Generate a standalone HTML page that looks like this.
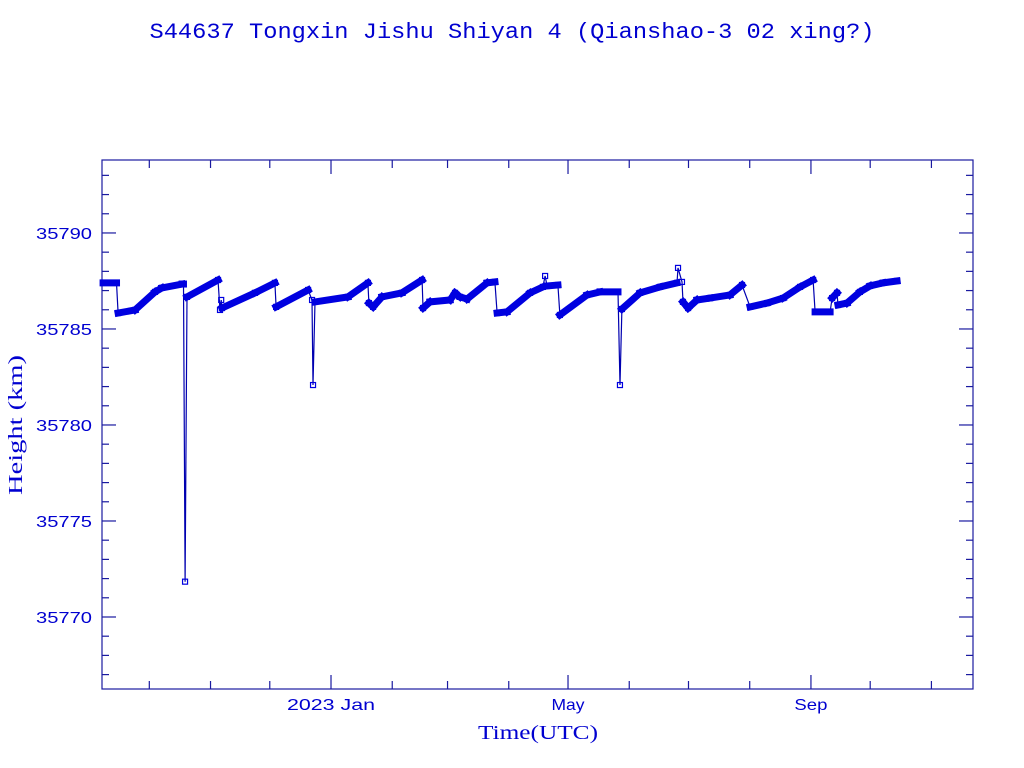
<!DOCTYPE html>
<html><head><meta charset="utf-8"><style>
body{margin:0;background:#fff;}
svg{display:block;font-family:"Liberation Sans",sans-serif;}
</style></head><body>
<svg id="chart" width="1024" height="768" viewBox="0 0 1024 768" xmlns="http://www.w3.org/2000/svg">
<text x="512" y="38" text-anchor="middle" font-size="22" fill="#0000d0" textLength="725" lengthAdjust="spacingAndGlyphs" font-family="Liberation Mono, monospace">S44637 Tongxin Jishu Shiyan 4  (Qianshao-3 02 xing?)</text>
<rect x="102" y="160" width="871" height="529" fill="none" stroke="#1a1aa0" stroke-width="1.2"/>
<g id="axes"></g>
<g id="series"></g>
<text transform="translate(22,425) rotate(-90)" text-anchor="middle" font-size="20" fill="#0000d0" textLength="140" lengthAdjust="spacingAndGlyphs" font-family="Liberation Serif, serif">Height (km)</text>
<text x="538" y="739" text-anchor="middle" font-size="20" fill="#0000d0" textLength="120" lengthAdjust="spacingAndGlyphs" font-family="Liberation Serif, serif">Time(UTC)</text>
</svg>
<script>
const days=[-115.4,-108.6,-107.8,-99.2,-89.1,-85.6,-75.4,-74.7,-73.9,-72.9,-57.2,-56.2,-55.6,-55.2,-38.5,-28.4,-27.8,-11.6,-9.6,-9.1,-8.1,8.6,18.7,19.2,21.3,25.8,35.9,46.1,46.6,50.1,60.3,62.8,65.3,68.9,79.0,83.0,84.1,89.1,100.8,107.3,108.4,109.4,114.9,115.9,129.6,136.2,145.3,146.3,147.3,156.5,166.6,175.2,175.7,177.7,178.2,180.8,185.3,191.9,202.0,208.1,212.2,220.8,228.9,237.5,244.1,245.1,252.7,253.7,256.2,256.7,261.3,267.8,272.9,279.5,286.6];
const heights=[35787.40,35787.40,35785.83,35785.99,35786.93,35787.14,35787.34,35787.34,35771.84,35786.67,35787.55,35785.99,35786.51,35786.09,35786.88,35787.40,35786.15,35787.03,35786.51,35782.08,35786.41,35786.67,35787.40,35786.35,35786.15,35786.67,35786.88,35787.55,35786.09,35786.41,35786.51,35786.88,35786.67,35786.56,35787.40,35787.45,35785.83,35785.89,35786.88,35787.19,35787.76,35787.24,35787.29,35785.73,35786.77,35786.93,35786.93,35782.08,35786.04,35786.88,35787.19,35787.40,35788.18,35787.45,35786.41,35786.09,35786.51,35786.61,35786.77,35787.29,35786.15,35786.35,35786.61,35787.19,35787.55,35785.89,35785.89,35786.61,35786.88,35786.25,35786.35,35786.93,35787.24,35787.40,35787.50];
const yTicks=[35770,35775,35780,35785,35790];
const yTickLabels=["35770","35775","35780","35785","35790"];
const xMonthDays=[-92,-61,-31,0,31,59,90,120,151,181,212,243,273,304];
const xMajorDays=[0,120,243];
const xMajorLabels=["2023 Jan","May","Sep"];

const NS="http://www.w3.org/2000/svg";
const X0=102,X1=973,Y0=160,Y1=689;
const dMin=-115.95,dMax=325.05,hMin=35766.25,hMax=35793.8;
const xs=d=>X0+(d-dMin)/(dMax-dMin)*(X1-X0);
const ys=h=>Y1-(h-hMin)/(hMax-hMin)*(Y1-Y0);
const C="#1a1aa0";
function mk(tag,attrs,parent){const e=document.createElementNS(NS,tag);for(const k in attrs)e.setAttribute(k,attrs[k]);parent.appendChild(e);return e;}
const ax=document.getElementById('axes');
for(let h=35767;h<=35793;h++){
  const y=ys(h);const maj=h%5===0;const L=maj?14:7;
  const t1=mk('line',{x1:X0,x2:X0+L,y1:y,y2:y,stroke:C,'stroke-width':1.2},ax);
  
  
  const t2=mk('line',{x1:X1,x2:X1-L,y1:y,y2:y,stroke:C,'stroke-width':1.2},ax);
  
  
}
yTicks.forEach((v,i)=>{
  const t=mk('text',{x:92,y:ys(v)+6,'text-anchor':'end','font-size':16,fill:'#0000d0',textLength:56,lengthAdjust:'spacingAndGlyphs'},ax);
  t.textContent=yTickLabels[i];
  
  
});
xMonthDays.forEach(d=>{
  const x=xs(d);const maj=xMajorDays.includes(d);const L=maj?14:8;
  const t1=mk('line',{x1:x,x2:x,y1:Y1,y2:Y1-L,stroke:C,'stroke-width':1.2},ax);
  
  
  const t2=mk('line',{x1:x,x2:x,y1:Y0,y2:Y0+L,stroke:C,'stroke-width':1.2},ax);
  
  
});
xMajorDays.forEach((d,i)=>{
  const w=xMajorLabels[i].length*11;
  const t=mk('text',{x:xs(d),y:710,'text-anchor':'middle','font-size':16,fill:'#0000d0',textLength:w,lengthAdjust:'spacingAndGlyphs'},ax);
  t.textContent=xMajorLabels[i];
  
  
});
const g=document.getElementById('series');
const B="#0000e0";
let pts=days.map((d,i)=>xs(d).toFixed(1)+','+ys(heights[i]).toFixed(1)).join(' ');
const pl=mk('polyline',{points:pts,fill:'none',stroke:'#0000b0','stroke-width':1.2},g);


for(let i=0;i<days.length-1;i++){
  const dh=Math.abs(heights[i+1]-heights[i]);
  const dt=Math.max(days[i+1]-days[i],0.01);
  if(dh/dt<0.15){
    const s=mk('line',{x1:xs(days[i]),y1:ys(heights[i]),x2:xs(days[i+1]),y2:ys(heights[i+1]),stroke:B,'stroke-width':7,'stroke-linecap':'square'},g);
    
    
  }
}
days.forEach((d,i)=>{
  const r=mk('rect',{x:xs(d)-2.5,y:ys(heights[i])-2.5,width:5,height:5,fill:'none',stroke:B,'stroke-width':1.2},g);
  
  
});
</script>
</body></html>
